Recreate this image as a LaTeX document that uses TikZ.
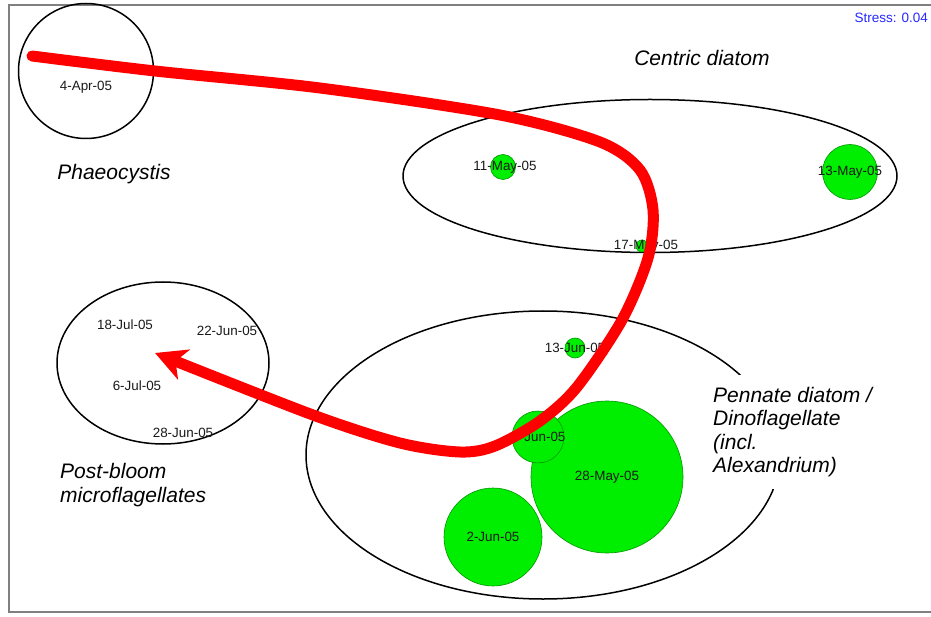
\documentclass[tikz,border=0pt]{standalone}
\usepackage{fontspec}
\setmainfont{Liberation Sans}
\usetikzlibrary{arrows.meta}
\definecolor{blobgreen}{RGB}{0,238,0}
\definecolor{bloboutline}{RGB}{0,150,0}
\definecolor{stressblue}{RGB}{40,40,255}

\begin{document}
\begin{tikzpicture}[x=1pt,y=-1pt,
  ring/.style={line width=1.5pt},
  blob/.style={fill=blobgreen,draw=bloboutline,line width=0.6pt},
  date/.style={font=\fontsize{13.4}{15}\selectfont,text=black!90,inner sep=0pt},
  grouplabel/.style={font=\itshape\fontsize{21}{23.5}\selectfont,inner sep=0pt,align=left},
  trail/.style={red,line width=11pt,line cap=round,-{Stealth[length=31pt,width=32pt,inset=9pt]}}]
  \useasboundingbox (0,0) rectangle (931,617);
  \draw[gray,line width=1.5pt] (931,5) -- (9,5) -- (9,612) -- (931,612);
  \node[font=\fontsize{13.5}{15}\selectfont,text=stressblue,anchor=east,inner sep=0pt] (stress) at (928,18) {Stress: 0.04};

  \draw[ring] (86,71) circle (67.5);
  \draw[ring] (650,176) ellipse [x radius=247,y radius=76.5];
  \draw[ring] (163,363) ellipse [x radius=106,y radius=81];
  \draw[ring] (543,455) ellipse [x radius=237,y radius=144];

  \draw[blob] (503,167) circle (12.5);
  \draw[blob] (850,172) circle (27.5);
  \draw[blob] (642,246) circle (6);
  \draw[blob] (575,348) circle (10);
  \draw[blob] (607,477) circle (76);
  \draw[blob] (538,437) circle (26);
  \draw[blob] (493,537) circle (49);

  \node[date] (apr4)  at (86,87)   {4-Apr-05};
  \node[date] (may11) at (505,167) {11-May-05};
  \node[date] (may13) at (850,172) {13-May-05};
  \node[date] (may17) at (646,246) {17-May-05};
  \node[date] (may28) at (607,477) {28-May-05};
  \node[date] (jun2)  at (493,537) {2-Jun-05};
  \node[date] (jun9)  at (539,437) {9-Jun-05};
  \node[date] (jun13) at (575,348) {13-Jun-05};
  \node[date] (jun22) at (227,331) {22-Jun-05};
  \node[date] (jun28) at (183,433) {28-Jun-05};
  \node[date] (jul6)  at (137,386) {6-Jul-05};
  \node[date] (jul18) at (125,325) {18-Jul-05};

  \node[grouplabel] (phaeo) at (114,174) {Phaeocystis};
  \node[grouplabel] (centric) at (702,58) {Centric diatom};
  \node[grouplabel,anchor=west] (postbloom) at (60,485) {Post-bloom\\microflagellates};
  \node[grouplabel,anchor=west,fill=white,inner xsep=4pt,inner ysep=12pt] (pennate) at (709,432)
    {Pennate diatom /\\Dinoflagellate\\(incl.\\Alexandrium)};

  \coordinate (trailStart) at (32,56);
  \coordinate (trailEnd) at (155,353);
  \draw[trail] plot[smooth,tension=0.5] coordinates {(trailStart) (155,71) (320,88) (500,115) (600,142)
    (640,170) (653,210) (648,258) (622,320) (577,387) (540,421) (495,446) (460,452) (400,443)
    (313,415) (trailEnd)};
\end{tikzpicture}
\end{document}
